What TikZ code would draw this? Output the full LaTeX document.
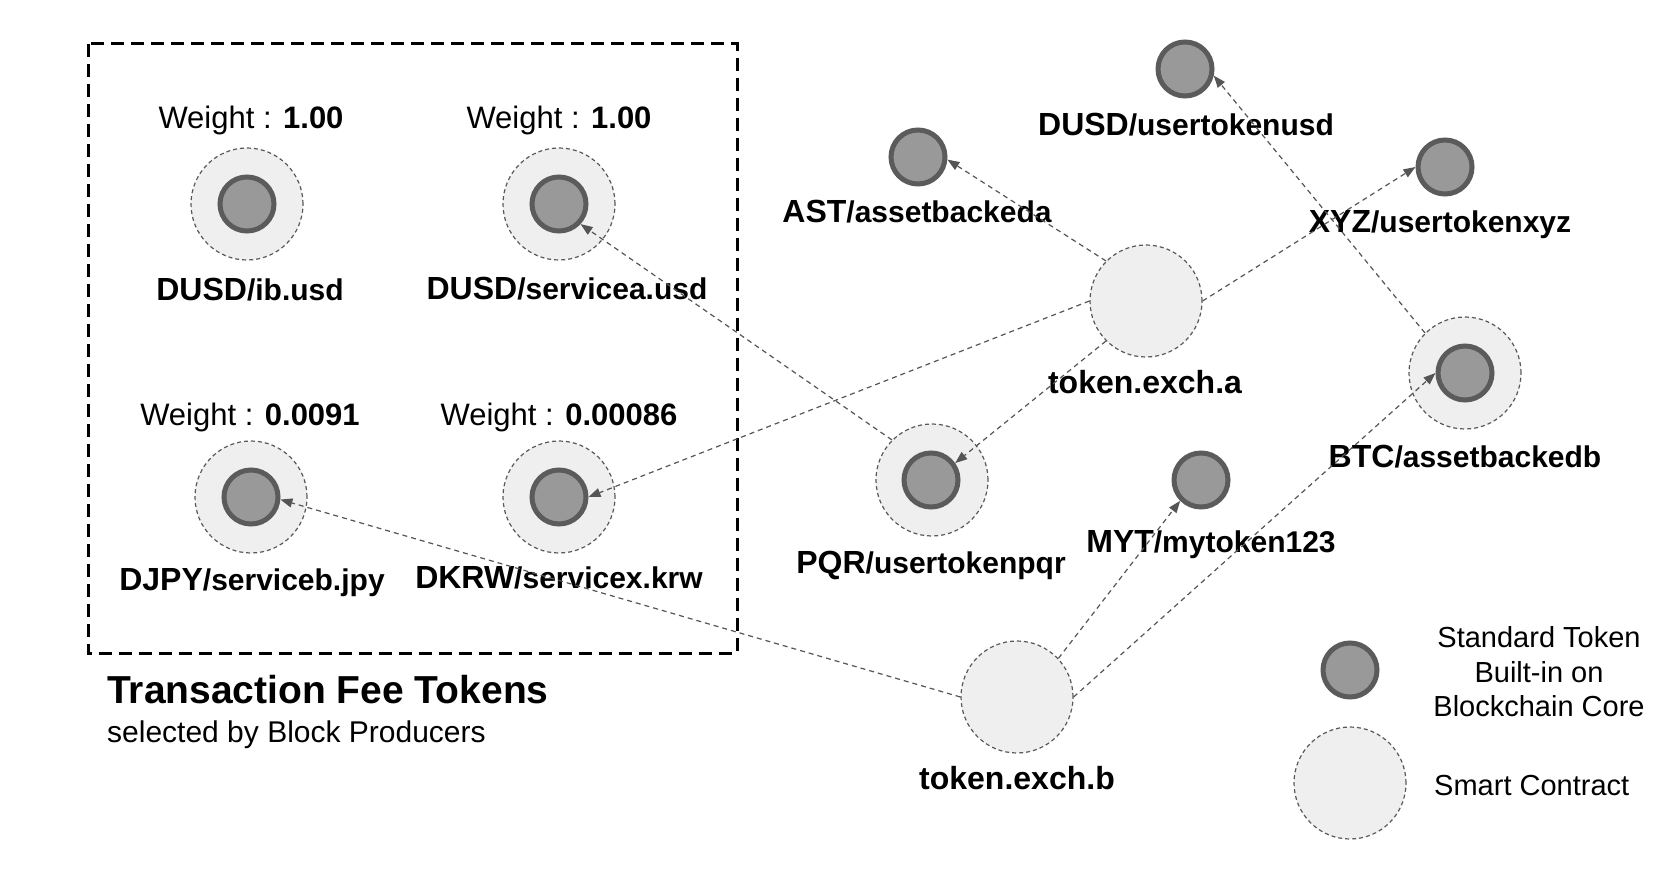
\documentclass[tikz,border=0pt]{standalone}
\usepackage{fontspec}
\setmainfont{Liberation Sans}
\usetikzlibrary{arrows.meta}
\definecolor{cfill}{HTML}{EFEFEF}
\definecolor{cline}{HTML}{595959}
\definecolor{tfill}{HTML}{999999}
\definecolor{tline}{HTML}{5B5B5B}
\definecolor{aline}{HTML}{555555}
\newcommand{\myfs}[1]{\fontsize{#1}{#1}\selectfont}
\newcommand{\sfx}[1]{{\myfs{30}#1}}
\tikzset{
  contract/.style={circle, fill=cfill, draw=cline, line width=1.2pt, dash pattern=on 4pt off 3pt, minimum size=112pt, inner sep=0pt},
  token/.style={circle, fill=tfill, draw=tline, line width=5pt, minimum size=54pt, inner sep=0pt},
  wtext/.style={anchor=base, inner sep=0pt, font=\myfs{31}},
  lbl/.style={anchor=base, inner sep=0pt, font=\myfs{32}\bfseries},
  legtext/.style={anchor=base, inner sep=0pt, font=\myfs{29}},
  link/.style={draw=aline, line width=1.2pt, dash pattern=on 5pt off 4pt, -{Triangle[length=12pt,width=9pt,fill=aline]}},
  feebox/.style={draw=black, line width=3pt, dash pattern=on 13pt off 7pt},
}
\begin{document}
\begin{tikzpicture}[x=1pt,y=-1pt]
\useasboundingbox[fill=white] (0,0) rectangle (1662,882);
\draw[feebox] (88,44) rectangle (737,653);
% fee tokens
\node[contract] (c1) at (247,204) {};
\node[token] (t1) at (247,204) {};
\node[wtext] (w1) at (251,129) {Weight : \textbf{1.00}};
\node[lbl] (l1) at (250,301) {DUSD\sfx{/ib.usd}};
\node[contract] (c2) at (559,204) {};
\node[token] (t2) at (559,204) {};
\node[wtext] (w2) at (559,129) {Weight : \textbf{1.00}};
\node[lbl] (l2) at (567,300) {DUSD\sfx{/servicea.usd}};
\node[contract] (c3) at (251,497) {};
\node[token] (t3) at (251,497) {};
\node[wtext] (w3) at (250,425) {Weight : \textbf{0.0091}};
\node[lbl] (l3) at (252,590) {DJPY\sfx{/serviceb.jpy}};
\node[contract] (c4) at (559,497) {};
\node[token] (t4) at (559,497) {};
\node[wtext] (w4) at (559,425) {Weight : \textbf{0.00086}};
\node[lbl] (l4) at (559,588) {DKRW\sfx{/servicex.krw}};
\node[anchor=base west, inner sep=0pt, font=\myfs{39}\bfseries] (title) at (107,703) {Transaction Fee Tokens};
\node[anchor=base west, inner sep=0pt, font=\myfs{30}] (subtitle) at (107,742) {selected by Block Producers};
% other tokens
\node[token] (ast) at (918,157) {};
\node[lbl] (last) at (917,223) {AST\sfx{/assetbackeda}};
\node[token] (dusdu) at (1185,69) {};
\node[lbl] (ldusdu) at (1186,136) {DUSD\sfx{/usertokenusd}};
\node[token] (xyz) at (1445,167) {};
\node[lbl] (lxyz) at (1440,233) {XYZ\sfx{/usertokenxyz}};
\node[contract] (exa) at (1146,301) {};
\node[lbl] (lexa) at (1145,393) {token.exch.a};
\node[contract] (btc) at (1465,373) {};
\node[token] (btcin) at (1465,373) {};
\node[lbl] (lbtc) at (1465,467) {BTC\sfx{/assetbackedb}};
\node[contract] (pqr) at (932,480) {};
\node[token] (pqrin) at (931,480) {};
\node[lbl] (lpqr) at (931,573) {PQR\sfx{/usertokenpqr}};
\node[token] (myt) at (1201,480) {};
\node[lbl] (lmyt) at (1211,552) {MYT\sfx{/mytoken123}};
\node[contract] (exb) at (1017,697) {};
\node[lbl] (lexb) at (1017,789) {token.exch.b};
% legend
\node[token] (ltok) at (1350,670) {};
\node[contract] (lcon) at (1350,783) {};
\node[legtext] (lt1) at (1539,647) {Standard Token};
\node[legtext] (lt2) at (1539,682) {Built-in on};
\node[legtext] (lt3) at (1539,716) {Blockchain Core};
\node[legtext, anchor=base west] (lt4) at (1434,795) {Smart Contract};
% links
\draw[link] (exa.135) -- (ast.-5);
\draw[link] (exa.east) -- (xyz.west);
\draw[link] (exa.225) -- (pqrin.35);
\draw[link] (exa.west) -- (t4.east);
\draw[link] (pqr.135) -- (t2.-43);
\draw[link] (btc.135) -- (dusdu.-13);
\draw[link] (exb.west) -- (t3.-5);
\draw[link] (exb.43) -- (myt.225);
\draw[link] (exb.east) -- (btcin.west);
\end{tikzpicture}
\end{document}
